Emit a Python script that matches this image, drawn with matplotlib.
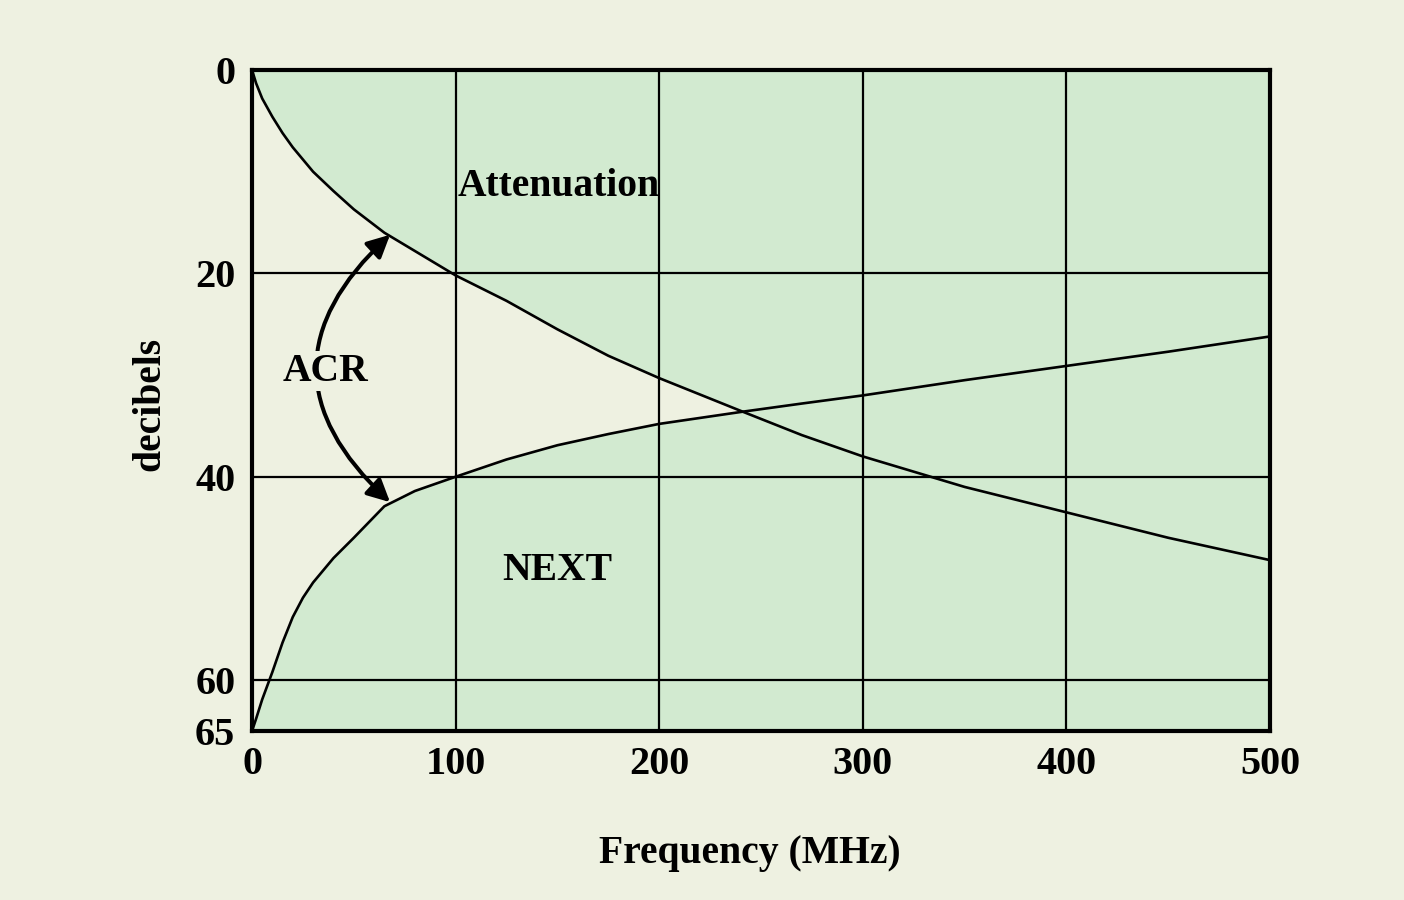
"""ACR chart: attenuation vs NEXT over frequency."""
import matplotlib
matplotlib.use("Agg")
import matplotlib.pyplot as plt
from matplotlib.patches import FancyArrowPatch

BG    = "#eef1e1"
GREEN = "#d2ead0"
INK   = "black"

# frequency grid (MHz) and curves (dB)
freq = [0, 2, 5, 10, 15, 20, 25, 30, 40, 50, 65, 80, 100, 125, 150, 175,
        200, 241, 270, 300, 350, 400, 450, 500]
attenuation = [0, 1.3, 2.8, 4.6, 6.2, 7.6, 8.8, 10.0, 11.9, 13.7, 16.0, 17.8,
               20.2, 22.7, 25.5, 28.1, 30.3, 33.6, 35.9, 38.0, 41.0, 43.5,
               46.0, 48.2]
next_db = [65, 63.8, 61.9, 59.2, 56.3, 53.8, 51.9, 50.4, 48.0, 46.0, 42.9,
           41.4, 40.0, 38.3, 36.9, 35.8, 34.8, 33.6, 32.8, 32.0, 30.5, 29.1,
           27.7, 26.2]

x_ticks = [0, 100, 200, 300, 400, 500]
y_ticks = [0, 20, 40, 60, 65]
grid_x = [100, 200, 300, 400]
grid_y = [20, 40, 60]

plt.rcParams["font.family"] = ["Liberation Serif", "DejaVu Serif"]
plt.rcParams["font.weight"] = "bold"

fig = plt.figure(figsize=(14.04, 9), dpi=100)
fig.patch.set_facecolor(BG)
ax = fig.add_axes([0.1795, 0.1878, 0.7251, 0.7344])
ax.set_facecolor(GREEN)

ax.set_xlim(0, 500)
ax.set_ylim(65, 0)

# light band between the curves, where ACR is positive
ax.fill_between(freq, attenuation, next_db,
                where=[n > a for a, n in zip(attenuation, next_db)],
                interpolate=True, color=BG, lw=0, zorder=1)

for gx in grid_x:
    ax.axvline(gx, color=INK, lw=1.6, zorder=2)
for gy in grid_y:
    ax.axhline(gy, color=INK, lw=1.6, zorder=2)

ax.plot(freq, attenuation, color=INK, lw=1.9, zorder=3,
        solid_joinstyle="round")
ax.plot(freq, next_db, color=INK, lw=1.9, zorder=3,
        solid_joinstyle="round")

for side in ["left", "bottom", "right", "top"]:
    ax.spines[side].set_linewidth(3)
    ax.spines[side].set_zorder(5)

ax.set_xticks(x_ticks)
ax.set_yticks(y_ticks)
ax.tick_params(length=0, labelsize=29, pad=12)
ax.tick_params(axis="x", pad=11)

ax.set_xlabel("Frequency (MHz)", fontsize=28.5, fontweight="bold", va="center")
ax.xaxis.set_label_coords(0.489, -0.186)
ax.set_ylabel("decibels", fontsize=28.5, fontweight="bold", va="center")
ax.yaxis.set_label_coords(-0.1, 0.495)

ax.text(101, 11.5, "Attenuation", fontsize=28.5, fontweight="bold",
        ha="left", va="center", zorder=4)
ax.text(150, 49.2, "NEXT", fontsize=28.5, fontweight="bold",
        ha="center", va="center", zorder=4)

arrow = FancyArrowPatch((67.8, 16.2), (67.8, 42.5),
                        connectionstyle="arc3,rad=0.54",
                        arrowstyle="<|-|>", mutation_scale=34,
                        color=INK, lw=2.9, zorder=4, shrinkA=0, shrinkB=0)
ax.add_patch(arrow)
ax.text(36.3, 29.6, "ACR", fontsize=28.5, fontweight="bold",
        ha="center", va="center", zorder=6,
        bbox=dict(boxstyle="square,pad=0.05", facecolor=BG, edgecolor="none"))

fig.savefig("out.png", dpi=100, facecolor=BG)
